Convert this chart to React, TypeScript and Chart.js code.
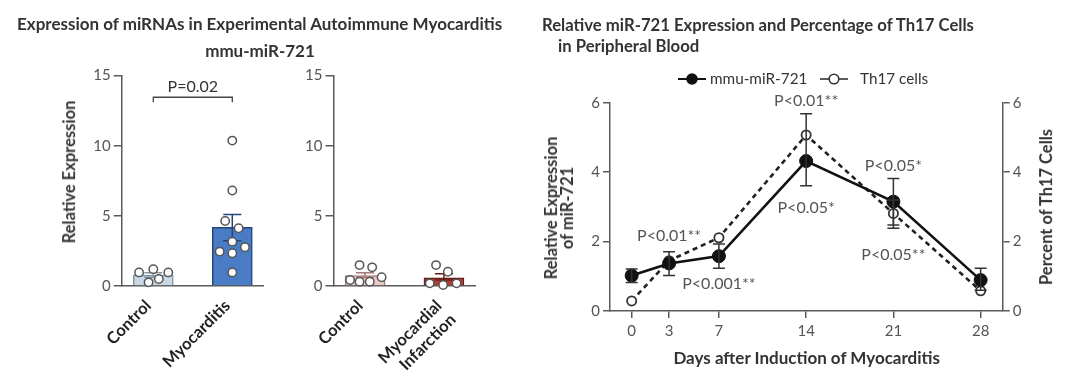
import React, { useEffect, useRef } from "react";
import { Chart, registerables } from "chart.js";

Chart.register(...registerables);

const FONT = "Lato, 'Open Sans', sans-serif";
const AXIS = "#5a5a5a";
const TICK_TEXT = "#555";

// ---------- Panel A: experimental autoimmune myocarditis ----------
const eamCategories = ["Control", "Myocarditis"];
const eamMeans = [0.78, 4.18];
const eamSemLow = [0.62, 3.22];
const eamSemHigh = [0.95, 5.09];
const eamControlValues = [0.97, 1.2, 0.97, 0.26, 0.5];
const eamControlJitter = [-0.18, 0, 0.19, -0.06, 0.07];
const eamMyocarditisValues = [10.36, 6.8, 4.63, 4.11, 3.16, 2.45, 2.33, 2.76, 0.97];
const eamMyocarditisJitter = [0, 0, -0.09, 0.08, 0, -0.16, 0, 0.16, 0];
const eamBarFill = ["#c9d8e4", "#4a7cc6"];
const eamBarBorder = ["#8497a8", "#22457c"];
const barTicks = [0, 5, 10, 15];
const bracketGroups = [0, 1];
const bracketLevel = 13.45;
const bracketLegLevel = 13.1;
const bracketLabel = "P=0.02";
const bracketLabelLevel = 14.2;

// ---------- Panel B: myocardial infarction ----------
const miCategories: (string | string[])[] = ["Control", ["Myocardial", "Infarction"]];
const miMeans = [0.75, 0.59];
const miSemLow = [0.6, 0.42];
const miSemHigh = [0.95, 0.88];
const miControlValues = [1.49, 1.33, 0.43, 0.31, 0.31, 0.62];
const miControlJitter = [-0.07, 0.09, -0.19, -0.07, 0.06, 0.21];
const miInfarctionValues = [1.49, 1.02, 0.19, 0.07, 0.19];
const miInfarctionJitter = [-0.1, 0.05, -0.18, -0.01, 0.16];
const miBarFill = ["#eccbc7", "#b63a31"];
const miBarBorder = ["#a57c77", "#6a1c17"];

// ---------- Panel C: time course ----------
const days = [0, 3, 7, 14, 21, 28];
const mirValues = [1.02, 1.37, 1.58, 4.32, 3.15, 0.89];
const mirErrLow = [0.82, 1.02, 1.23, 3.61, 2.48, 0.6];
const mirErrHigh = [1.21, 1.71, 1.93, 5.68, 3.82, 1.23];
const th17Values = [0.29, 1.45, 2.11, 5.07, 2.81, 0.58];
const th17ErrLow: (number | null)[] = [null, null, null, null, 2.38, null];
const th17ErrHigh: (number | null)[] = [null, null, null, null, 3.2, null];
const lineTicks = [0, 2, 4, 6];
const pLabels = ["P<0.01**", "P<0.01**", "P<0.001**", "P<0.05*", "P<0.05*", "P<0.05**"];
const pDays = [14, 3, 7, 14, 21, 21];
const pLevels = [6.05, 2.16, 0.78, 2.98, 4.18, 1.61];

function pointsFor(values: number[], jitter: number[], group: number) {
  return values.map((v, i) => ({ x: group + jitter[i], y: v }));
}

function drawErrorBar(ctx: CanvasRenderingContext2D, xp: number, yLow: number, yHigh: number, cap: number) {
  ctx.beginPath();
  ctx.moveTo(xp, yLow);
  ctx.lineTo(xp, yHigh);
  ctx.moveTo(xp - cap, yLow);
  ctx.lineTo(xp + cap, yLow);
  ctx.moveTo(xp - cap, yHigh);
  ctx.lineTo(xp + cap, yHigh);
  ctx.stroke();
}

function barConfig(
  categories: (string | string[])[],
  means: number[],
  semLow: number[],
  semHigh: number[],
  points: { x: number; y: number }[],
  fills: string[],
  borders: string[],
  leftPad: number,
  rightPad: number,
  bracket: boolean
): any {
  const errPlugin = {
    id: "barErr",
    afterDatasetDraw(chart: any, args: any) {
      if (args.index !== 1) return;
      const { ctx, scales } = chart;
      ctx.save();
      ctx.lineWidth = 1.5;
      means.forEach((_, i) => {
        ctx.strokeStyle = borders[i];
        drawErrorBar(
          ctx,
          scales.x.getPixelForValue(i),
          scales.y.getPixelForValue(semLow[i]),
          scales.y.getPixelForValue(semHigh[i]),
          9
        );
      });
      ctx.restore();
    },
    afterDraw(chart: any) {
      if (!bracket) return;
      const { ctx, scales } = chart;
      const x1 = scales.x.getPixelForValue(bracketGroups[0]);
      const x2 = scales.x.getPixelForValue(bracketGroups[1]);
      const yb = scales.y.getPixelForValue(bracketLevel);
      const yl = scales.y.getPixelForValue(bracketLegLevel);
      ctx.save();
      ctx.strokeStyle = "#444";
      ctx.lineWidth = 1.3;
      ctx.beginPath();
      ctx.moveTo(x1, yl);
      ctx.lineTo(x1, yb);
      ctx.lineTo(x2, yb);
      ctx.lineTo(x2, yl);
      ctx.stroke();
      ctx.fillStyle = "#333";
      ctx.font = `16px ${FONT}`;
      ctx.textAlign = "center";
      ctx.textBaseline = "middle";
      ctx.fillText(bracketLabel, (x1 + x2) / 2, scales.y.getPixelForValue(bracketLabelLevel));
      ctx.restore();
    },
  };

  return {
    type: "bar",
    data: {
      datasets: [
        {
          type: "scatter",
          data: points,
          order: 1,
          pointRadius: 4.2,
          pointBorderWidth: 1.5,
          pointBackgroundColor: "#ffffff",
          pointBorderColor: "#555",
          clip: false,
        },
        {
          type: "bar",
          data: means.map((m, i) => ({ x: i, y: m })),
          order: 2,
          backgroundColor: fills,
          borderColor: borders,
          borderWidth: 1.5,
          barThickness: 40,
          clip: false,
        },
      ],
    },
    options: {
      responsive: false,
      animation: false,
      events: [],
      layout: { padding: { left: leftPad, right: rightPad, top: 75.5, bottom: 0 } },
      plugins: { legend: { display: false }, tooltip: { enabled: false } },
      scales: {
        x: {
          type: "linear",
          min: -0.4,
          max: 1.4,
          offset: false,
          afterFit: (a: any) => {
            a.height = 100;
          },
          afterBuildTicks: (a: any) => {
            a.ticks = categories.map((_, i) => ({ value: i }));
          },
          grid: { display: false, drawTicks: false },
          border: { display: true, color: AXIS, width: 1.5 },
          ticks: {
            autoSkip: false,
            minRotation: 45,
            maxRotation: 45,
            padding: 10,
            labelOffset: -5,
            color: "#222",
            font: { family: FONT, size: 16.5, weight: "bold" },
            callback: (v: any) => categories[v],
          },
        },
        y: {
          min: 0,
          max: 15,
          afterFit: (a: any) => {
            a.width = 40;
          },
          afterBuildTicks: (a: any) => {
            a.ticks = barTicks.map((v) => ({ value: v }));
          },
          grid: { display: true, drawOnChartArea: false, drawTicks: true, tickLength: 8, color: AXIS, lineWidth: 1.5 },
          border: { display: true, color: AXIS, width: 1.5 },
          ticks: { padding: 3, color: TICK_TEXT, font: { family: FONT, size: 15 } },
        },
      },
    },
    plugins: [errPlugin],
  };
}

function lineConfig(): any {
  const errPlugin = {
    id: "lineErr",
    afterDatasetsDraw(chart: any) {
      const { ctx, scales } = chart;
      ctx.save();
      ctx.lineWidth = 1.5;
      ctx.strokeStyle = "#333";
      days.forEach((d, i) => {
        const xp = scales.x.getPixelForValue(d);
        drawErrorBar(ctx, xp, scales.y.getPixelForValue(mirErrLow[i]), scales.y.getPixelForValue(mirErrHigh[i]), 6);
        const lo = th17ErrLow[i];
        const hi = th17ErrHigh[i];
        if (lo !== null && hi !== null) {
          drawErrorBar(ctx, xp, scales.y2.getPixelForValue(lo), scales.y2.getPixelForValue(hi), 6);
        }
      });
      ctx.restore();
    },
    afterDraw(chart: any) {
      const { ctx, scales } = chart;
      ctx.save();
      ctx.fillStyle = "#555";
      ctx.font = `16px ${FONT}`;
      ctx.textAlign = "center";
      ctx.textBaseline = "middle";
      pLabels.forEach((t, i) => {
        ctx.fillText(t, scales.x.getPixelForValue(pDays[i]), scales.y.getPixelForValue(pLevels[i]));
      });
      ctx.restore();
    },
  };

  const yAxis = (position: string) => ({
    position,
    min: 0,
    max: 6,
    afterFit: (a: any) => {
      a.width = 40;
    },
    afterBuildTicks: (a: any) => {
      a.ticks = lineTicks.map((v) => ({ value: v }));
    },
    grid: { display: true, drawOnChartArea: false, drawTicks: true, tickLength: 7, color: AXIS, lineWidth: 1.5 },
    border: { display: true, color: AXIS, width: 1.5 },
    ticks: { padding: 3, color: TICK_TEXT, font: { family: FONT, size: 15 } },
  });

  return {
    type: "line",
    data: {
      datasets: [
        {
          label: "mmu-miR-721",
          data: days.map((d, i) => ({ x: d, y: mirValues[i] })),
          yAxisID: "y",
          borderColor: "#111",
          backgroundColor: "#111",
          borderWidth: 2.6,
          pointRadius: 6.5,
          pointBackgroundColor: "#111",
          pointBorderColor: "#111",
          pointBorderWidth: 1,
          tension: 0,
          clip: false,
        },
        {
          label: "Th17 cells",
          data: days.map((d, i) => ({ x: d, y: th17Values[i] })),
          yAxisID: "y2",
          borderColor: "#222",
          borderDash: [5, 4],
          borderWidth: 2.6,
          pointRadius: 4.6,
          pointBackgroundColor: "#ffffff",
          pointBorderColor: "#333",
          pointBorderWidth: 1.8,
          tension: 0,
          clip: false,
        },
      ],
    },
    options: {
      responsive: false,
      animation: false,
      events: [],
      layout: { padding: { left: 570, right: 37.3, top: 102.7, bottom: 35 } },
      plugins: { legend: { display: false }, tooltip: { enabled: false } },
      scales: {
        x: {
          type: "linear",
          min: -1.74,
          max: 29.77,
          afterFit: (a: any) => {
            a.height = 40;
          },
          afterBuildTicks: (a: any) => {
            a.ticks = days.map((v) => ({ value: v }));
          },
          grid: { display: true, drawOnChartArea: false, drawTicks: true, tickLength: 7, color: AXIS, lineWidth: 1.5 },
          border: { display: true, color: AXIS, width: 1.5 },
          ticks: { padding: 4, color: TICK_TEXT, font: { family: FONT, size: 15 } },
        },
        y: yAxis("left"),
        y2: yAxis("right"),
      },
    },
    plugins: [errPlugin],
  };
}

function Label(props: {
  x: number;
  baseline: number;
  size?: number;
  weight?: number;
  color?: string;
  center?: boolean;
  children: React.ReactNode;
}) {
  const size = props.size ?? 17;
  return (
    <div
      style={{
        position: "absolute",
        left: props.x,
        top: props.baseline - 0.987 * size,
        fontSize: size,
        lineHeight: 1.2,
        fontWeight: props.weight ?? 700,
        color: props.color ?? "#333",
        whiteSpace: "nowrap",
        transform: props.center ? "translateX(-50%)" : undefined,
      }}
    >
      {props.children}
    </div>
  );
}

function Rotated(props: { cx: number; cy: number; size?: number; lineHeight?: number; children: React.ReactNode }) {
  const size = props.size ?? 16.5;
  return (
    <div
      style={{
        position: "absolute",
        left: props.cx,
        top: props.cy,
        transform: "translate(-50%, -50%) rotate(-90deg)",
        fontSize: size,
        lineHeight: `${props.lineHeight ?? size * 1.2}px`,
        fontWeight: 700,
        color: "#333",
        whiteSpace: "nowrap",
        textAlign: "center",
      }}
    >
      {props.children}
    </div>
  );
}

export default function App() {
  const refA = useRef<HTMLCanvasElement>(null);
  const refB = useRef<HTMLCanvasElement>(null);
  const refC = useRef<HTMLCanvasElement>(null);

  useEffect(() => {
    const charts: Chart[] = [];
    charts.push(
      new Chart(
        refA.current!,
        barConfig(
          eamCategories,
          eamMeans,
          eamSemLow,
          eamSemHigh,
          [...pointsFor(eamControlValues, eamControlJitter, 0), ...pointsFor(eamMyocarditisValues, eamMyocarditisJitter, 1)],
          eamBarFill,
          eamBarBorder,
          81.7,
          1080 - 263.9,
          true
        )
      )
    );
    charts.push(
      new Chart(
        refB.current!,
        barConfig(
          miCategories,
          miMeans,
          miSemLow,
          miSemHigh,
          [...pointsFor(miControlValues, miControlJitter, 0), ...pointsFor(miInfarctionValues, miInfarctionJitter, 1)],
          miBarFill,
          miBarBorder,
          293.5,
          1080 - 475.5,
          false
        )
      )
    );
    charts.push(new Chart(refC.current!, lineConfig()));
    return () => charts.forEach((c) => c.destroy());
  }, []);

  const canvasStyle: React.CSSProperties = { position: "absolute", left: 0, top: 0, width: 1080, height: 386 };

  return (
    <div
      style={{
        position: "absolute",
        left: 0,
        top: 0,
        width: 1080,
        height: 386,
        background: "#ffffff",
        overflow: "hidden",
        fontFamily: FONT,
      }}
    >
      <canvas ref={refA} width={1080} height={386} style={canvasStyle} />
      <canvas ref={refB} width={1080} height={386} style={canvasStyle} />
      <canvas ref={refC} width={1080} height={386} style={canvasStyle} />

      <Label x={17} baseline={30.3}>Expression of miRNAs in Experimental Autoimmune Myocarditis</Label>
      <Label x={260} baseline={57.5} center>mmu-miR-721</Label>
      <Rotated cx={70} cy={172}>Relative Expression</Rotated>

      <Label x={542} baseline={31} size={16.7}>Relative miR-721 Expression and Percentage of Th17 Cells</Label>
      <Label x={558} baseline={52} size={16.7}>in Peripheral Blood</Label>

      <svg width={28} height={16} style={{ position: "absolute", left: 678, top: 71 }}>
        <line x1={0} y1={8} x2={28} y2={8} stroke="#111" strokeWidth={2} />
        <circle cx={14} cy={8} r={5.8} fill="#111" />
      </svg>
      <Label x={710} baseline={84.5} size={15.3} weight={400}>mmu-miR-721</Label>
      <svg width={28} height={16} style={{ position: "absolute", left: 820, top: 71 }}>
        <line x1={0} y1={8} x2={28} y2={8} stroke="#333" strokeWidth={1.6} />
        <circle cx={14} cy={8} r={4.8} fill="#fff" stroke="#333" strokeWidth={1.6} />
      </svg>
      <Label x={860} baseline={84.5} size={15.3} weight={400}>Th17 cells</Label>

      <Rotated cx={559} cy={208} lineHeight={16}>
        Relative Expression
        <br />
        of miR-721
      </Rotated>
      <Rotated cx={1047} cy={207}>Percent of Th17 Cells</Rotated>
      <Label x={806.7} baseline={365} center>Days after Induction of Myocarditis</Label>
    </div>
  );
}
